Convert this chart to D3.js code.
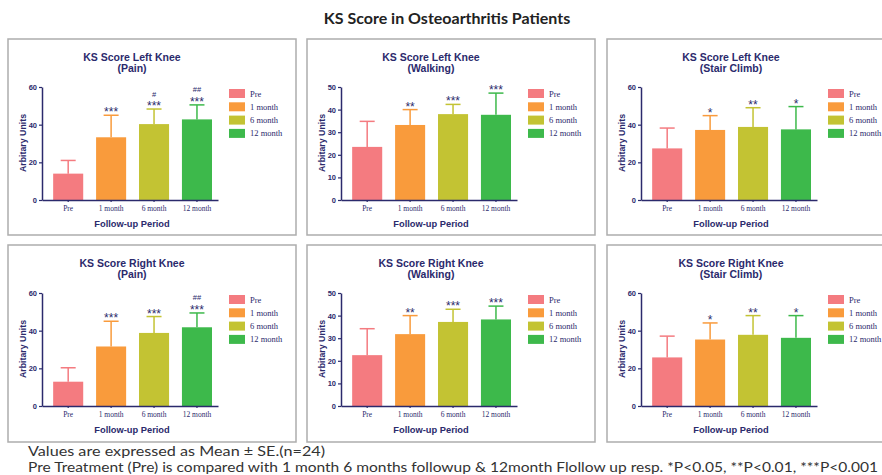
<!DOCTYPE html>
<html>
<head>
<meta charset="utf-8">
<script src="https://cdn.jsdelivr.net/npm/d3@7"></script>
<style>
  body { margin: 0; background: #fff; }
  svg { display: block; }
</style>
</head>
<body>
<svg width="882" height="475"></svg>
<script>
// data
var categories = ["Pre", "1 month", "6 month", "12 month"];
var colors = ["#f47b80", "#f99b3c", "#c3c333", "#3db94b"];

var panelTitles = [
  ["KS Score Left Knee", "(Pain)"],
  ["KS Score Left Knee", "(Walking)"],
  ["KS Score Left Knee", "(Stair Climb)"],
  ["KS Score Right Knee", "(Pain)"],
  ["KS Score Right Knee", "(Walking)"],
  ["KS Score Right Knee", "(Stair Climb)"]
];
var yMax = [60, 50, 60, 60, 50, 60];
var yTicks = [[0, 20, 40, 60], [0, 10, 20, 30, 40, 50], [0, 20, 40, 60],
              [0, 20, 40, 60], [0, 10, 20, 30, 40, 50], [0, 20, 40, 60]];

var means = [
  [14, 33.3, 40.3, 42.8],
  [23.5, 33.2, 38, 37.7],
  [27.4, 37.2, 38.8, 37.5],
  [12.9, 31.6, 38.8, 41.8],
  [22.5, 31.8, 37.2, 38.3],
  [25.8, 35.3, 37.8, 36.2]
];
var se = [
  [7, 11.7, 8, 7.7],
  [11.3, 6.8, 4.3, 9.6],
  [10.8, 7.6, 10.2, 12.1],
  [7.4, 13.4, 8.7, 7.6],
  [11.7, 8.2, 5.6, 5.9],
  [11.3, 8.8, 10.2, 11.8]
];
var stars = [
  ["", "***", "***", "***"],
  ["", "**", "***", "***"],
  ["", "*", "**", "*"],
  ["", "***", "***", "***"],
  ["", "**", "***", "***"],
  ["", "*", "**", "*"]
];
var hashes = [
  ["", "", "#", "##"],
  ["", "", "", ""],
  ["", "", "", ""],
  ["", "", "", "##"],
  ["", "", "", ""],
  ["", "", "", ""]
];

var mainTitle = "KS Score in Osteoarthritis Patients";
var notes = [
  "Values are expressed as Mean \u00b1 SE.(n=24)",
  "Pre Treatment (Pre) is compared with 1 month 6 months followup & 12month Flollow up resp. *P<0.05, **P<0.01, ***P<0.001"
];

var svg = d3.select("svg"),
    navy = "#2b2a6c",
    panelW = 288,
    panelX = [8, 307, 607],
    panelY = [39, 245],
    panelH = [196, 197];

svg.append("text")
    .attr("x", 447)
    .attr("y", 24)
    .attr("text-anchor", "middle")
    .style("font", "bold 16px Lato, sans-serif")
    .style("fill", "#222")
    .text(mainTitle);

panelTitles.forEach(function(t, p) {
  var col = p % 3, row = Math.floor(p / 3);
  var g = svg.append("g")
    .attr("transform", "translate(" + panelX[col] + "," + panelY[row] + ")");

  g.append("rect")
    .attr("width", panelW)
    .attr("height", panelH[row])
    .attr("fill", "#fff")
    .attr("stroke", "#adadad")
    .attr("stroke-width", 1.5);

  var x = d3.scaleBand()
    .domain(categories)
    .range([34, 210])
    .paddingInner(0.3)
    .paddingOuter(0.2)
    .align(0.65);

  var y = d3.scaleLinear()
    .domain([0, yMax[p]])
    .range([161, 48]);

  var data = categories.map(function(c, i) {
    return {cat: c, mean: means[p][i], se: se[p][i], star: stars[p][i], hash: hashes[p][i], color: colors[i]};
  });

  // title
  g.append("text")
    .attr("x", 124)
    .attr("y", 22)
    .attr("text-anchor", "middle")
    .style("font", "bold 10.5px 'Liberation Sans', Arial, sans-serif")
    .style("fill", navy)
    .text(t[0]);
  g.append("text")
    .attr("x", 124)
    .attr("y", 33)
    .attr("text-anchor", "middle")
    .style("font", "bold 10.5px 'Liberation Sans', Arial, sans-serif")
    .style("fill", navy)
    .text(t[1]);

  // bars
  g.selectAll(".bar")
    .data(data)
    .enter().append("rect")
      .attr("class", "bar")
      .attr("x", function(d) { return x(d.cat); })
      .attr("width", x.bandwidth())
      .attr("y", function(d) { return y(d.mean); })
      .attr("height", function(d) { return y(0) - y(d.mean); })
      .attr("fill", function(d) { return d.color; });

  // error bars
  var eb = g.selectAll(".err")
    .data(data)
    .enter().append("g")
      .attr("class", "err")
      .style("stroke", function(d) { return d.color; })
      .style("stroke-width", 1.5);
  eb.append("line")
    .attr("x1", function(d) { return x(d.cat) + x.bandwidth() / 2; })
    .attr("x2", function(d) { return x(d.cat) + x.bandwidth() / 2; })
    .attr("y1", function(d) { return y(d.mean); })
    .attr("y2", function(d) { return y(d.mean + d.se); });
  eb.append("line")
    .attr("x1", function(d) { return x(d.cat) + x.bandwidth() / 2 - 7.5; })
    .attr("x2", function(d) { return x(d.cat) + x.bandwidth() / 2 + 7.5; })
    .attr("y1", function(d) { return y(d.mean + d.se); })
    .attr("y2", function(d) { return y(d.mean + d.se); });

  // significance marks
  g.selectAll(".star")
    .data(data)
    .enter().append("text")
      .attr("class", "star")
      .attr("x", function(d) { return x(d.cat) + x.bandwidth() / 2; })
      .attr("y", function(d) { return y(d.mean + d.se) + 1; })
      .attr("text-anchor", "middle")
      .style("font", "12px 'Liberation Sans', Arial, sans-serif")
      .style("fill", navy)
      .text(function(d) { return d.star; });
  g.selectAll(".hash")
    .data(data)
    .enter().append("text")
      .attr("class", "hash")
      .attr("x", function(d) { return x(d.cat) + x.bandwidth() / 2; })
      .attr("y", function(d) { return y(d.mean + d.se) - 12.5; })
      .attr("text-anchor", "middle")
      .style("font", "7.5px 'Liberation Sans', Arial, sans-serif")
      .style("fill", navy)
      .text(function(d) { return d.hash; });

  // axes
  var xAxis = g.append("g")
    .attr("transform", "translate(0,161)")
    .call(d3.axisBottom(x).tickSize(2).tickSizeOuter(0).tickPadding(4));
  xAxis.selectAll("text")
    .style("font", "7.5px 'Liberation Serif', 'Times New Roman', serif")
    .style("fill", navy);

  var yAxis = g.append("g")
    .attr("transform", "translate(34,0)")
    .call(d3.axisLeft(y).tickValues(yTicks[p]).tickSize(3).tickSizeOuter(0).tickPadding(2));
  yAxis.selectAll("text")
    .style("font", "bold 7.5px 'Liberation Sans', Arial, sans-serif")
    .style("fill", navy);

  [xAxis, yAxis].forEach(function(a) {
    a.select(".domain").style("stroke", navy).style("stroke-width", 1.5);
    a.selectAll(".tick line").style("stroke", navy).style("stroke-width", 1.2);
  });

  g.append("text")
    .attr("x", 124)
    .attr("y", 188)
    .attr("text-anchor", "middle")
    .style("font", "bold 9.3px 'Liberation Sans', Arial, sans-serif")
    .style("fill", navy)
    .text("Follow-up Period");

  g.append("text")
    .attr("transform", "translate(18,104) rotate(-90)")
    .attr("text-anchor", "middle")
    .style("font", "bold 8.8px 'Liberation Sans', Arial, sans-serif")
    .style("fill", navy)
    .text("Arbitary Units");

  // legend
  var legend = g.selectAll(".legend")
    .data(data)
    .enter().append("g")
      .attr("class", "legend")
      .attr("transform", function(d, i) { return "translate(221," + (50 + i * 13.3) + ")"; });
  legend.append("rect")
    .attr("width", 16)
    .attr("height", 9)
    .attr("fill", function(d) { return d.color; });
  legend.append("text")
    .attr("x", 21)
    .attr("y", 7.5)
    .style("font", "8.5px 'Liberation Serif', 'Times New Roman', serif")
    .style("fill", navy)
    .text(function(d) { return d.cat; });
});

svg.selectAll(".note")
  .data(notes)
  .enter().append("text")
    .attr("class", "note")
    .attr("x", 28)
    .attr("y", function(d, i) { return 456 + i * 16; })
    .attr("textLength", function(d, i) { return i === 0 ? 297 : 850; })
    .attr("lengthAdjust", "spacingAndGlyphs")
    .style("font", "13px Lato, sans-serif")
    .style("fill", "#333")
    .text(function(d) { return d; });
</script>
</body>
</html>
